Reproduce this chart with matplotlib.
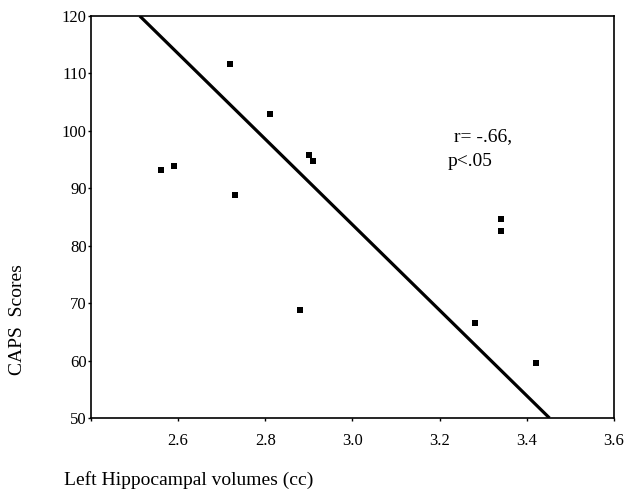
import numpy as np
import matplotlib
matplotlib.use("Agg")
import matplotlib.pyplot as plt

# scatter data
vol = [2.56, 2.59, 2.72, 2.73, 2.81, 2.90, 2.91, 2.88, 3.28, 3.34, 3.34, 3.42]
caps = [93.1, 93.9, 111.7, 88.8, 102.9, 95.8, 94.8, 68.8, 66.6, 84.7, 82.6, 59.6]

# regression line end points (where it meets the frame)
fit_x = [2.512, 3.452]
fit_y = [120, 50]

xticks = [2.4, 2.6, 2.8, 3.0, 3.2, 3.4, 3.6]
xticklabels = ["", "2.6", "2.8", "3.0", "3.2", "3.4", "3.6"]
yticks = [50, 60, 70, 80, 90, 100, 110, 120]

plt.rcParams['font.family'] = ['Liberation Serif', 'DejaVu Serif']

fig = plt.figure(figsize=(6.3, 4.94), dpi=100)
ax = fig.add_axes([0.1444, 0.1538, 0.8302, 0.8138])

ax.plot(fit_x, fit_y, color="black", lw=2.3, solid_capstyle="butt")
ax.plot(vol, caps, "s", color="black", markersize=4.8, markeredgewidth=0)

ax.set_xlim(2.4, 3.6)
ax.set_ylim(50, 120)
ax.set_xticks(xticks)
ax.set_xticklabels(xticklabels)
ax.set_yticks(yticks)
ax.tick_params(axis="y", direction="out", length=2.5, width=1, pad=0.5, labelsize=12)
ax.tick_params(axis="x", direction="out", length=2.5, width=1, pad=8, labelsize=12)
for s in ax.spines.values():
    s.set_linewidth(1.2)

fig.text(454 / 630, 1 - 137 / 494, "r= -.66,", fontsize=14, va="center", ha="left")
fig.text(448 / 630, 1 - 162 / 494, "p<.05", fontsize=14, va="center", ha="left")

fig.text(64 / 630, 1 - 480 / 494, "Left Hippocampal volumes (cc)", fontsize=14,
         va="center", ha="left")
fig.text(18 / 630, 1 - 320 / 494, "CAPS  Scores", fontsize=14, rotation=90,
         va="center", ha="center")

plt.savefig("out.png", dpi=100)
